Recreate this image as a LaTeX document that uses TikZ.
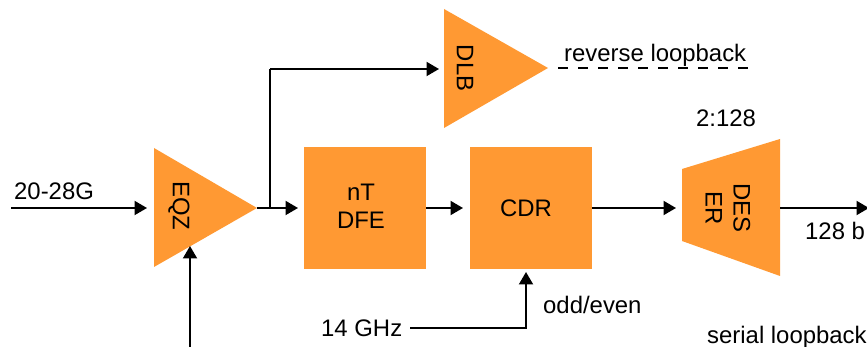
\documentclass[tikz,border=0pt]{standalone}
\usepackage{fontspec}
\setmainfont{Liberation Sans}
\usetikzlibrary{arrows.meta}
\definecolor{blockor}{RGB}{255,153,51}
\tikzset{
  x=1pt,y=-1pt,
  blockbox/.style={fill=blockor,minimum width=122pt,minimum height=122pt,inner sep=0pt},
  blockshape/.style={fill=blockor},
  lbl/.style={inner sep=0pt,font=\fontsize{23.9}{28}\selectfont,anchor=base west},
  txt/.style={inner sep=0pt,font=\fontsize{23.9}{28}\selectfont,align=center},
  rotlbl/.style={txt,rotate=-90},
  conn/.style={line width=2pt,-{Triangle[length=12.5pt,width=14pt]}},
  plainconn/.style={line width=2pt},
  dashconn/.style={line width=2pt,dash pattern=on 10pt off 10pt,dash phase=10pt}
}
\begin{document}
\begin{tikzpicture}
\useasboundingbox (0,0) rectangle (867,347);
% shapes
\fill[blockshape] (154,148) -- (154,267) -- (257,208) -- cycle;
\fill[blockshape] (444,9) -- (444,128) -- (548,68) -- cycle;
\fill[blockshape] (682,169) -- (780,139) -- (780,276) -- (682,241) -- cycle;
\node[blockbox] (dfe) at (365,208) {};
\node[blockbox] (cdr) at (531,208) {};
\node[txt] (dfet) at (361,206) {nT\\DFE};
\node[txt] (cdrt) at (526,208) {CDR};
\node[rotlbl] (eqz) at (179,206) {EQZ};
\node[rotlbl] (dlb) at (465,68) {DLB};
\node[rotlbl] (des) at (728,208) {DES\\ER};
% anchors
\coordinate (in) at (11,208);
\coordinate (eqzin) at (147,208);
\coordinate (eqzout) at (257,208);
\coordinate (dfein) at (298,208);
\coordinate (br) at (270,208);
\coordinate (brtop) at (270,69);
\coordinate (dlbin) at (439,69);
\coordinate (dlbout) at (548,68);
\coordinate (revend) at (748,68);
\coordinate (cdrin) at (463,208);
\coordinate (desin) at (676,208);
\coordinate (desout) at (780,208);
\coordinate (outend) at (869,208);
\coordinate (ctl) at (190,349);
\coordinate (eqzctl) at (190,246);
\coordinate (clk) at (410,328);
\coordinate (clkc) at (526,328);
\coordinate (cdrclk) at (526,272);
% connectors
\draw[conn] (in) -- (eqzin);
\draw[conn] (eqzout) -- (dfein);
\draw[plainconn] (br) -- (brtop);
\draw[conn] (brtop) -- (dlbin);
\draw[conn] (dfe.east) -- (cdrin);
\draw[conn] (cdr.east) -- (desin);
\draw[conn] (desout) -- (outend);
\draw[conn] (ctl) -- (eqzctl);
\draw[conn] (clk) -- (clkc) -- (cdrclk);
\draw[dashconn] (dlbout) -- (revend);
% labels
\node[lbl] (l1) at (14,200) {20-28G};
\node[lbl] (l2) at (564,62) {reverse loopback};
\node[lbl] (l3) at (696,127) {2:128};
\node[lbl] (l4) at (805,240) {128 b};
\node[lbl] (l5) at (543,313) {odd/even};
\node[lbl] (l6) at (321,336) {14 GHz};
\node[lbl] (l7) at (707,343) {serial loopback};
\end{tikzpicture}
\end{document}
